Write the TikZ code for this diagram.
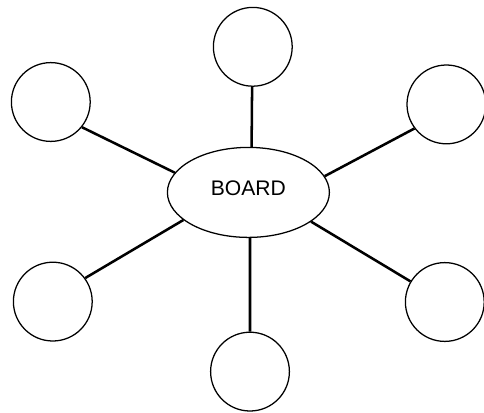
\documentclass[tikz,border=0pt]{standalone}
\usepackage{fontspec}
\setmainfont{Liberation Sans}
\usetikzlibrary{shapes.geometric}
\tikzset{member/.style = {shape=circle,draw,line width=0.9pt,minimum size=1.97cm,inner sep=0pt}}
\tikzset{hub/.style = {shape=ellipse,draw,line width=0.9pt,minimum width=4.05cm,minimum height=2.25cm,inner sep=0pt,font=\fontsize{15}{18}\selectfont,text depth=0.22cm}}
\tikzset{link/.style = {line width=1.8pt}}

\begin{document}
\begin{tikzpicture}
            \useasboundingbox (-6.21,-5.49) rectangle (5.89,4.81);

            % Board
            \node[hub] (board) at (0,0) {BOARD};

            % Members
            \node[member] (m1) at (0.11,3.64) {};
            \node[member] (m2) at (4.95,2.2) {};
            \node[member] (m3) at (4.91,-2.74) {};
            \node[member] (m4) at (0.04,-4.48) {};
            \node[member] (m5) at (-4.89,-2.73) {};
            \node[member] (m6) at (-4.94,2.26) {};

            % Links
            \draw[link] (m1.-91) -- (board.86);
            \draw[link] (m2.-143) -- (board.12);
            \draw[link] (m3.149) -- (board.-25);
            \draw[link] (m4.90) -- (board.-88);
            \draw[link] (m5.36) -- (board.-157);
            \draw[link] (m6.-39) -- (board.165);
        \end{tikzpicture}
\end{document}
